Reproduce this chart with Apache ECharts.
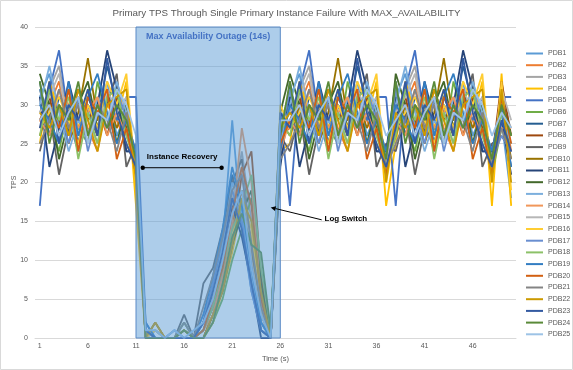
<!DOCTYPE html>
<html><head><meta charset="utf-8">
<script src="https://cdn.jsdelivr.net/npm/echarts@6/dist/echarts.min.js"></script>
<style>html,body{margin:0;padding:0;background:#fff}#c{width:573px;height:370px}</style>
</head><body><div id="c"></div>
<script>
const categories = ['1','2','3','4','5','6','7','8','9','10','11','12','13','14','15','16','17','18','19','20','21','22','23','24','25','26','27','28','29','30','31','32','33','34','35','36','37','38','39','40','41','42','43','44','45','46','47','48','49','50'];
const seriesNames = ['PDB1','PDB2','PDB3','PDB4','PDB5','PDB6','PDB7','PDB8','PDB9','PDB10','PDB11','PDB12','PDB13','PDB14','PDB15','PDB16','PDB17','PDB18','PDB19','PDB20','PDB21','PDB22','PDB23','PDB24','PDB25'];
const seriesColors = ['#5B9BD5','#ED7D31','#A5A5A5','#FFC000','#4472C4','#70AD47','#255E91','#9E480E','#636363','#997300','#264478','#43682B','#7CAFDD','#F1975A','#B7B7B7','#FFCD33','#698ED0','#8CC168','#327DC2','#D26012','#848484','#CC9A00','#335AA1','#5A8A39','#9DC3E6'];

const pdb1  = [31,34,27,32,25,30,28,33,26,29,23, 1,0,0,0,1,0,2,6,12,28,14,6,1,0, 28, 31,34,27,32,25,30,28,33,26,29,23, 31,34,27,32,25,30,28,33,26,29,23, 28,18];
const pdb2  = [27,30,33,26,31,27,24,31,28,25,22, 0,0,0,0,0,0,1,4,8,14,19,10,3,0, 26, 27,30,33,26,31,27,24,31,28,25,22, 27,30,33,26,31,27,24,31,28,25,22, 32,24];
const pdb3  = [29,32,35,28,30,26,31,27,33,28,24, 0,1,0,0,0,0,0,3,9,17,24,15,4,0, 27, 29,32,35,28,30,26,31,27,33,28,24, 29,32,35,28,30,26,31,27,33,28,24, 30,27];
const pdb4  = [25,33,29,31,27,32,26,30,28,33,17, 0,2,0,0,0,0,0,2,6,11,17,13,5,0, 24, 25,33,29,31,27,32,26,30,28,33,17, 25,33,29,31,27,32,26,30,28,33,17, 34,17];
const pdb5  = [17,32,37,28,24,30,26,32,28,31,31, 2,0,0,0,1,0,1,5,11,18,15,8,2,0, 29, 17,32,37,28,24,30,26,32,28,31,31, 17,32,37,28,24,30,26,32,28,31,31, 31,31];
const pdb6  = [32,28,24,30,27,25,33,28,31,27,21, 0,0,0,0,2,0,0,2,5,10,14,18,6,1, 27, 32,28,24,30,27,25,33,28,31,27,21, 32,28,24,30,27,25,33,28,31,27,21, 27,25];
const pdb7  = [33,26,31,29,25,31,28,35,30,24,24, 1,0,0,0,0,0,2,7,13,21,16,9,1,0, 23, 33,26,31,29,25,31,28,35,30,24,24, 33,26,31,29,25,31,28,35,30,24,24, 29,22];
const pdb8  = [28,31,26,29,32,28,30,26,31,27,23, 0,0,0,0,0,0,0,3,7,12,21,24,8,0, 25, 28,31,26,29,32,28,30,26,31,27,23, 28,31,26,29,32,28,30,26,31,27,23, 33,26];
const pdb9  = [24,29,21,27,31,29,26,30,34,22,25, 0,1,0,0,3,0,7,9,14,20,23,11,2,0, 26, 24,29,21,27,31,29,26,30,34,22,25, 24,29,21,27,31,29,26,30,34,22,25, 26,24];
const pdb10 = [26,30,28,25,29,36,28,31,27,30,22, 0,2,0,0,1,0,1,4,9,15,19,12,3,0, 28, 26,30,28,25,29,36,28,31,27,30,22, 26,30,28,25,29,36,28,31,27,30,22, 30,23];
const pdb11 = [31,22,27,33,28,26,30,37,32,24,24, 1,0,0,0,0,0,2,6,10,17,13,7,0,0, 22, 31,22,27,33,28,26,30,37,32,24,24, 31,22,27,33,28,26,30,37,32,24,24, 28,21];
const pdb12 = [34,30,23,28,30,33,27,32,25,30,22, 0,0,0,0,1,0,0,3,6,12,16,19,7,0, 29, 34,30,23,28,30,33,27,32,25,30,22, 34,30,23,28,30,33,27,32,25,30,22, 31,26];
const pdb13 = [30,35,29,24,28,26,31,28,33,29,21, 0,1,0,1,0,0,1,5,12,20,16,8,2,0, 25, 30,35,29,24,28,26,31,28,33,29,21, 30,35,29,24,28,26,31,28,33,29,21, 29,25];
const pdb14 = [28,26,32,30,27,29,31,26,29,26,23, 0,0,0,0,0,0,1,3,8,15,27,20,5,0, 24, 28,26,32,30,27,29,31,26,29,26,23, 28,26,32,30,27,29,31,26,29,26,23, 27,27];
const pdb15 = [29,31,34,27,30,28,25,32,29,31,22, 0,1,0,0,0,0,3,6,11,18,22,10,3,0, 27, 29,31,34,27,30,28,25,32,29,31,22, 29,31,34,27,30,28,25,32,29,31,22, 32,28];
const pdb16 = [27,29,31,28,25,30,27,33,30,34,20, 0,1,0,0,1,0,0,2,7,13,18,14,4,0, 30, 27,29,31,28,25,30,27,33,30,34,20, 27,29,31,28,25,30,27,33,30,34,20, 33,19];
const pdb17 = [32,27,30,25,31,24,29,27,32,28,23, 1,0,0,1,0,0,2,7,13,19,15,6,1,0, 26, 32,27,30,25,31,24,29,27,32,28,23, 32,27,30,25,31,24,29,27,32,28,23, 26,24];
const pdb18 = [26,32,28,31,23,29,25,31,32,26,22, 0,0,0,0,2,0,1,4,9,14,17,21,9,1, 28, 26,32,28,31,23,29,25,31,32,26,22, 26,32,28,31,23,29,25,31,32,26,22, 29,26];
const pdb19 = [30,28,25,33,26,31,34,29,25,28,24, 2,0,0,0,0,0,3,8,14,22,17,9,2,0, 24, 30,28,25,33,26,31,34,29,25,28,24, 30,28,25,33,26,31,34,29,25,28,24, 30,22];
const pdb20 = [28,30,27,32,24,31,29,32,23,27,21, 0,0,0,0,0,0,1,5,9,16,22,17,5,0, 25, 28,30,27,32,24,31,29,32,23,27,21, 28,30,27,32,24,31,29,32,23,27,21, 31,25];
const pdb21 = [25,28,32,27,30,25,30,28,24,29,22, 0,0,0,0,2,0,4,8,13,19,21,12,4,0, 23, 25,28,32,27,30,25,30,28,24,29,22, 25,28,32,27,30,25,30,28,24,29,22, 27,23];
const pdb22 = [29,27,30,26,32,28,24,30,31,32,20, 0,2,0,0,1,0,0,3,6,12,18,15,6,0, 27, 29,27,30,26,32,28,24,30,31,32,20, 29,27,30,26,32,28,24,30,31,32,20, 32,20];
const pdb23 = [27,33,25,30,28,32,26,36,29,25,22, 1,0,0,0,0,0,2,6,11,18,14,7,1,0, 29, 27,33,25,30,28,32,26,36,29,25,22, 27,33,25,30,28,32,26,36,29,25,22, 28,24];
const pdb24 = [33,25,30,28,33,26,30,27,30,28,23, 0,0,0,0,1,0,0,2,7,13,16,12,11,1, 26, 33,25,30,28,33,26,30,27,30,28,23, 33,25,30,28,33,26,30,27,30,28,23, 30,26];
const pdb25 = [28,30,26,29,31,25,29,28,32,30,26, 1,1,0,1,0,1,2,5,10,16,19,9,3,0, 28, 28,30,26,29,31,25,29,28,32,30,26, 28,30,26,29,31,25,29,28,32,30,26, 29,27];

const seriesData = [pdb1,pdb2,pdb3,pdb4,pdb5,pdb6,pdb7,pdb8,pdb9,pdb10,pdb11,pdb12,pdb13,pdb14,pdb15,pdb16,pdb17,pdb18,pdb19,pdb20,pdb21,pdb22,pdb23,pdb24,pdb25];
const outageStart = '11', outageEnd = '26';

const FONT = 'Liberation Sans';
const chart = echarts.init(document.getElementById('c'), null, {renderer:'canvas'});

const series = seriesNames.map((n, i) => {
  const s = {
    name: n, type: 'line', data: seriesData[i], symbol: 'none', showSymbol: false,
    lineStyle: {width: 1.8, color: seriesColors[i]}, itemStyle: {color: seriesColors[i]},
    emphasis: {disabled: true}, animation: false
  };
  if (i === 0) {
    s.markArea = {
      silent: true, z: 10,
      itemStyle: {color: 'rgba(91,155,213,0.5)', borderColor: '#5A8AC6', borderWidth: 1},
      label: {show: true, position: 'insideTop', distance: 6, formatter: 'Max Availability Outage (14s)',
        color: '#4472C4', fontWeight: 'bold', fontSize: 9, fontFamily: FONT},
      data: [[{xAxis: outageStart, yAxis: 0}, {xAxis: outageEnd, yAxis: 40}]]
    };
  }
  return s;
});

chart.setOption({
  animation: false,
  backgroundColor: '#fff',
  color: seriesColors,
  title: {text: 'Primary TPS Through Single Primary Instance Failure With MAX_AVAILABILITY', left: 'center', top: 3,
    textStyle: {fontSize: 9.8, fontWeight: 'normal', color: '#595959', fontFamily: FONT}},
  grid: {left: 35, right: 57, top: 27, bottom: 32, containLabel: false, outerBoundsMode: 'none'},
  legend: {orient: 'vertical', left: 526, top: 50, icon: 'rect', itemWidth: 17, itemHeight: 2, itemGap: 4.7, padding: 0,
    textStyle: {fontSize: 7, color: '#595959', fontFamily: FONT}, data: seriesNames},
  xAxis: {type: 'category', data: categories, boundaryGap: true,
    name: 'Time (s)', nameLocation: 'middle', nameGap: 14,
    nameTextStyle: {fontSize: 7.5, color: '#595959', fontFamily: FONT},
    axisTick: {show: false}, axisLine: {lineStyle: {color: '#D9D9D9'}},
    axisLabel: {interval: 4, fontSize: 7, color: '#595959', margin: 5, fontFamily: FONT},
    splitLine: {show: false}},
  yAxis: {type: 'value', min: 0, max: 40, interval: 5,
    name: 'TPS', nameLocation: 'middle', nameGap: 17, nameMoveOverlap: false,
    nameTextStyle: {fontSize: 7, color: '#595959', fontFamily: FONT},
    axisLine: {show: false}, axisTick: {show: false},
    axisLabel: {fontSize: 7, color: '#595959', margin: 7, fontFamily: FONT},
    splitLine: {lineStyle: {color: '#D9D9D9', width: 1}}},
  series: series
});

function px(idx, val) {
  const a = chart.convertToPixel({xAxisIndex: 0, yAxisIndex: 0}, [0, val]);
  const b = chart.convertToPixel({xAxisIndex: 0, yAxisIndex: 0}, [1, val]);
  return [a[0] + (b[0] - a[0]) * idx, a[1]];
}
// annotations in data space (category index, value)
const rec0 = px(10.7, 21.9), rec1 = px(18.9, 21.9), recT = px(14.8, 23.3);
const logHead = px(24.0, 16.8), logTail = px(29.3, 15.2), logT = px(29.6, 15.3);
const ang = Math.atan2(logHead[1] - logTail[1], logHead[0] - logTail[0]);
const ah = 5, aw = 2.5;
const tip = logHead;
const base = [tip[0] - ah * Math.cos(ang), tip[1] - ah * Math.sin(ang)];
const p1 = [base[0] + aw * Math.sin(ang), base[1] - aw * Math.cos(ang)];
const p2 = [base[0] - aw * Math.sin(ang), base[1] + aw * Math.cos(ang)];

chart.setOption({
  graphic: [
    {type: 'rect', shape: {x: 0.5, y: 0.5, width: 572, height: 369}, style: {fill: 'none', stroke: '#D9D9D9', lineWidth: 1}, z: 100, silent: true},
    {type: 'line', shape: {x1: rec0[0], y1: rec0[1], x2: rec1[0], y2: rec1[1]}, style: {stroke: '#000', lineWidth: 1}, z: 100},
    {type: 'circle', shape: {cx: rec0[0], cy: rec0[1], r: 2.2}, style: {fill: '#000'}, z: 100},
    {type: 'circle', shape: {cx: rec1[0], cy: rec1[1], r: 2.2}, style: {fill: '#000'}, z: 100},
    {type: 'text', x: recT[0], y: recT[1], style: {text: 'Instance Recovery', fill: '#000', font: 'bold 8px ' + FONT, align: 'center', verticalAlign: 'middle'}, z: 100},
    {type: 'line', shape: {x1: logTail[0], y1: logTail[1], x2: base[0], y2: base[1]}, style: {stroke: '#000', lineWidth: 1}, z: 100},
    {type: 'polygon', shape: {points: [tip, p1, p2]}, style: {fill: '#000'}, z: 100},
    {type: 'text', x: logT[0], y: logT[1], style: {text: 'Log Switch', fill: '#000', font: 'bold 8px ' + FONT, align: 'left', verticalAlign: 'middle'}, z: 100}
  ]
});
</script></body></html>
